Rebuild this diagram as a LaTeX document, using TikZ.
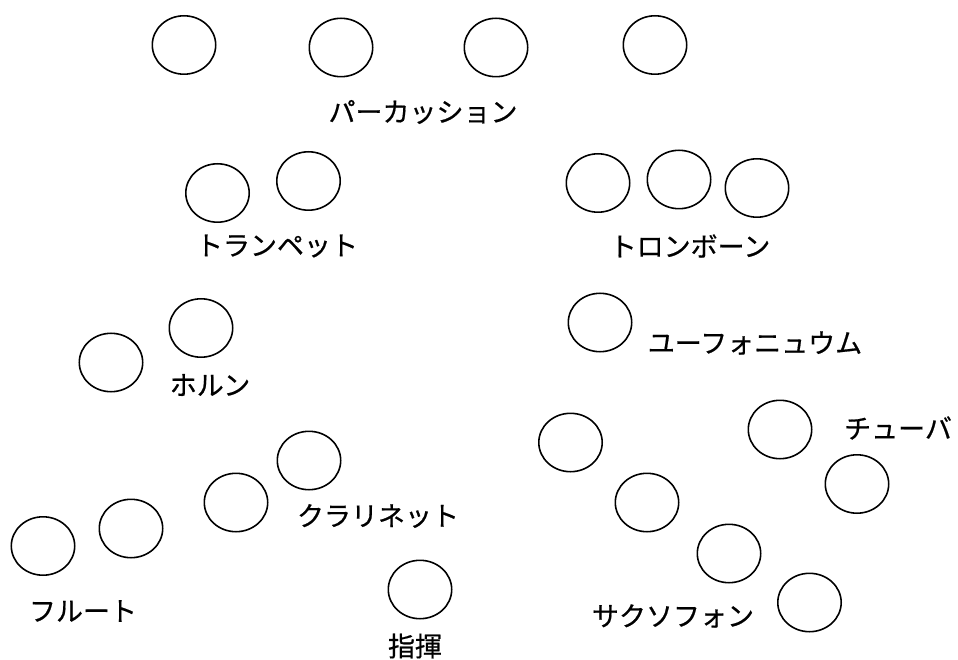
\documentclass[tikz,border=0pt]{standalone}
\usepackage{fontspec}
\setmainfont[FakeBold=0.6,AutoFakeBold=0]{Noto Sans CJK JP}
\usetikzlibrary{shapes.geometric}
\tikzset{
  seat/.style={draw=black, line width=1.6pt, ellipse, inner sep=0pt,
    minimum width=63.4pt, minimum height=58.4pt},
  lbl/.style={inner sep=0pt, font=\fontsize{27pt}{27pt}\selectfont}
}
\begin{document}
\begin{tikzpicture}[x=1pt,y=-1pt]
\useasboundingbox (0,0) rectangle (958,660);
% percussion
\node[seat] (p1) at (184,45) {};
\node[seat] (p2) at (341,47.5) {};
\node[seat] (p3) at (496,47.5) {};
\node[seat] (p4) at (655,45) {};
\node[lbl] (lp) at (423,112) {パーカッション};
% trumpet
\node[seat] (t1) at (217.5,193) {};
\node[seat] (t2) at (308.5,181) {};
\node[lbl] (lt) at (277,246) {トランペット};
% trombone
\node[seat] (b1) at (598,183) {};
\node[seat] (b2) at (679,179.5) {};
\node[seat] (b3) at (757,188) {};
\node[lbl] (lb) at (690,246) {トロンボーン};
% euphonium
\node[seat] (e1) at (600,322.5) {};
\node[lbl] (le) at (755,343) {ユーフォニュウム};
% horn
\node[seat] (h1) at (111,362.5) {};
\node[seat] (h2) at (201,328) {};
\node[lbl] (lh) at (210,385) {ホルン};
% tuba
\node[seat] (u1) at (780,429.5) {};
\node[seat] (u2) at (857,484) {};
\node[lbl] (lu) at (898,428) {チューバ};
% saxophone
\node[seat] (s1) at (570.5,442.5) {};
\node[seat] (s2) at (647,502.5) {};
\node[seat] (s3) at (729,553.5) {};
\node[seat] (s4) at (809.5,602.5) {};
\node[lbl] (ls) at (673,616) {サクソフォン};
% clarinet
\node[seat] (c1) at (236,502.5) {};
\node[seat] (c2) at (309,460.5) {};
\node[lbl] (lc) at (378,516) {クラリネット};
% flute
\node[seat] (f1) at (43,546) {};
\node[seat] (f2) at (131,528.5) {};
\node[lbl] (lf) at (83,611) {フルート};
% conductor
\node[seat] (d1) at (420,589.5) {};
\node[lbl] (ld) at (415,646) {指揮};
\end{tikzpicture}
\end{document}
